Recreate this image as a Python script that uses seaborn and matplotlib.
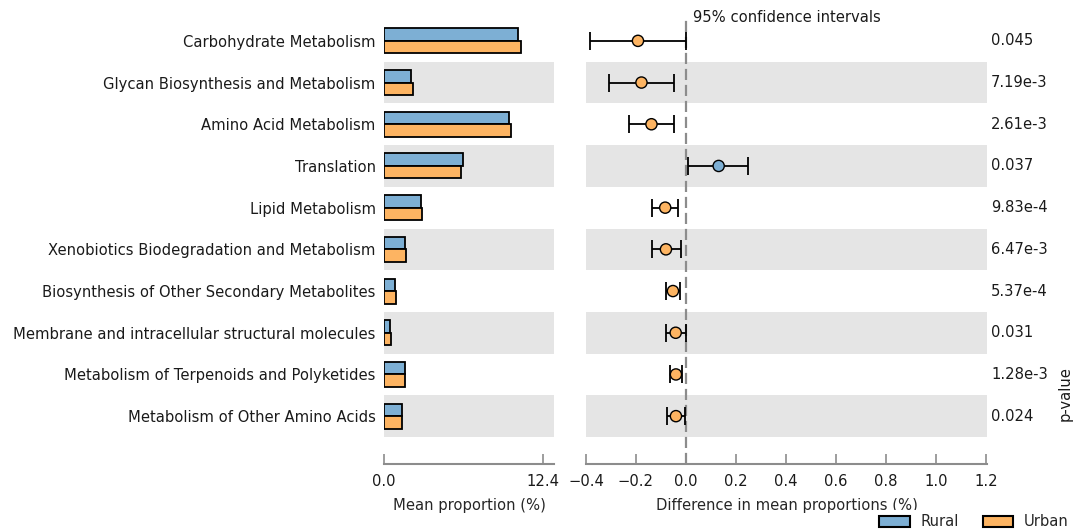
import numpy as np
import pandas as pd
import matplotlib
matplotlib.use("Agg")
import matplotlib.pyplot as plt
from matplotlib.patches import Patch
import seaborn as sns

categories = [
    "Carbohydrate Metabolism",
    "Glycan Biosynthesis and Metabolism",
    "Amino Acid Metabolism",
    "Translation",
    "Lipid Metabolism",
    "Xenobiotics Biodegradation and Metabolism",
    "Biosynthesis of Other Secondary Metabolites",
    "Membrane and intracellular structural molecules",
    "Metabolism of Terpenoids and Polyketides",
    "Metabolism of Other Amino Acids",
]
rural_mean = [10.49, 2.12, 9.76, 6.18, 2.90, 1.60, 0.86, 0.47, 1.62, 1.39]
urban_mean = [10.68, 2.28, 9.92, 6.02, 2.96, 1.70, 0.94, 0.52, 1.67, 1.44]
diff = [-0.192, -0.178, -0.138, 0.131, -0.083, -0.080, -0.052, -0.041, -0.040, -0.040]
ci_low = [-0.382, -0.308, -0.228, 0.010, -0.134, -0.136, -0.080, -0.080, -0.062, -0.074]
ci_high = [-0.001, -0.049, -0.049, 0.250, -0.033, -0.021, -0.025, 0.002, -0.016, -0.004]
p_values = ["0.045", "7.19e-3", "2.61e-3", "0.037", "9.83e-4",
            "6.47e-3", "5.37e-4", "0.031", "1.28e-3", "0.024"]
groups = ["Rural", "Urban"]
left_ticks = [0.0, 12.4]
right_ticks = [-0.4, -0.2, 0.0, 0.2, 0.4, 0.6, 0.8, 1.0, 1.2]

BLUE = "#7DAFD4"
ORANGE = "#FDB462"
BAND = "#E5E5E5"
SPINE = "#8C8C8C"
FS = 10.6

sns.set_theme(style="white")
plt.rcParams["font.family"] = ["DejaVu Sans"]

W, H = 1078, 531
fig = plt.figure(figsize=(W / 100, H / 100), dpi=100)

def frac(x0, x1, ytop, ybot):
    return [x0 / W, (H - ybot) / H, (x1 - x0) / W, (ybot - ytop) / H]

ax1 = fig.add_axes(frac(384, 554, 20, 464))
ax2 = fig.add_axes(frac(586, 987, 20, 464))

n = len(categories)
row_px = (437 - 20) / n
ybottom = n - 0.5 + (464 - 437) / row_px

df = pd.DataFrame({
    "category": categories * 2,
    "value": rural_mean + urban_mean,
    "group": [groups[0]] * n + [groups[1]] * n,
})

for ax in (ax1, ax2):
    for i in range(n):
        if i % 2 == 1:
            ax.axhspan(i - 0.5, i + 0.5, color=BAND, lw=0, zorder=0)

sns.barplot(data=df, y="category", x="value", hue="group", hue_order=groups,
            palette=[BLUE, ORANGE], saturation=1, orient="h", width=0.6, ax=ax1,
            edgecolor="black", linewidth=1.3, legend=False, zorder=3)
ax1.set_xlim(0, 13.26)
ax1.set_ylim(ybottom, -0.5)
ax1.set_xticks(left_ticks)
ax1.set_xticklabels([f"{t:.1f}" for t in left_ticks])
ax1.set_ylabel("")
ax1.set_xlabel("Mean proportion (%)", fontsize=FS, labelpad=7)
ax1.tick_params(axis="y", length=0, pad=6, labelsize=FS, labelcolor="#1a1a1a")

# right panel
ypos = np.arange(n)
ax2.axvline(0, color="#8C8C8C", lw=1.6, ls=(0, (5, 2.2)), zorder=1)
colors = [BLUE if d > 0 else ORANGE for d in diff]
xerr = np.array([np.array(diff) - np.array(ci_low), np.array(ci_high) - np.array(diff)])
ax2.errorbar(diff, ypos, xerr=xerr, fmt="none", ecolor="black", elinewidth=1.3,
             capsize=6.5, capthick=1.3, zorder=3)
sns.scatterplot(x=diff, y=ypos, hue=colors, palette={BLUE: BLUE, ORANGE: ORANGE},
                s=65, edgecolor="black", linewidth=1.0, legend=False, ax=ax2, zorder=4)
ax2.set_xlim(-0.4, 1.205)
ax2.set_ylim(ybottom, -0.5)
ax2.set_yticks([])
ax2.set_xticks(right_ticks)
ax2.set_xticklabels([f"{t:.1f}".replace("-", "\u2212") for t in right_ticks])
ax2.set_xlabel("Difference in mean proportions (%)", fontsize=FS, labelpad=7)

for ax in (ax1, ax2):
    for s in ("top", "right", "left"):
        ax.spines[s].set_visible(False)
    ax.spines["bottom"].set_color(SPINE)
    ax.spines["bottom"].set_linewidth(1.5)
    ax.tick_params(axis="x", direction="in", length=7, width=1.2, color=SPINE,
                   labelsize=FS, pad=7, bottom=True, labelcolor="#1a1a1a")
    ax.set_facecolor("none")
    ax.patch.set_alpha(0)

for i, p in enumerate(p_values):
    ax2.annotate(p, xy=(1.0, i), xycoords=("axes fraction", "data"),
                 xytext=(4, 0), textcoords="offset pixels", ha="left", va="center",
                 fontsize=FS, color="#1a1a1a", annotation_clip=False)

fig.text(1065 / W, (H - 394) / H, "p-value", rotation=90, ha="center", va="center",
         fontsize=FS, color="#1a1a1a")
fig.text(693 / W, (H - 17) / H, "95% confidence intervals", ha="left", va="center",
         fontsize=FS, color="#1a1a1a")

handles = [Patch(facecolor=BLUE, edgecolor="black", lw=1.5, label=groups[0]),
           Patch(facecolor=ORANGE, edgecolor="black", lw=1.5, label=groups[1])]
leg = fig.legend(handles=handles, loc="center left", bbox_to_anchor=(875 / W, 9 / H),
                 ncol=2, frameon=True, fontsize=FS, handlelength=2.1, handleheight=0.8,
                 handletextpad=0.7, columnspacing=1.6, borderpad=0.3, borderaxespad=0)
leg.get_frame().set_edgecolor("none")
leg.get_frame().set_facecolor("white")
leg.get_frame().set_alpha(1)

fig.savefig("out.png", dpi=100)
